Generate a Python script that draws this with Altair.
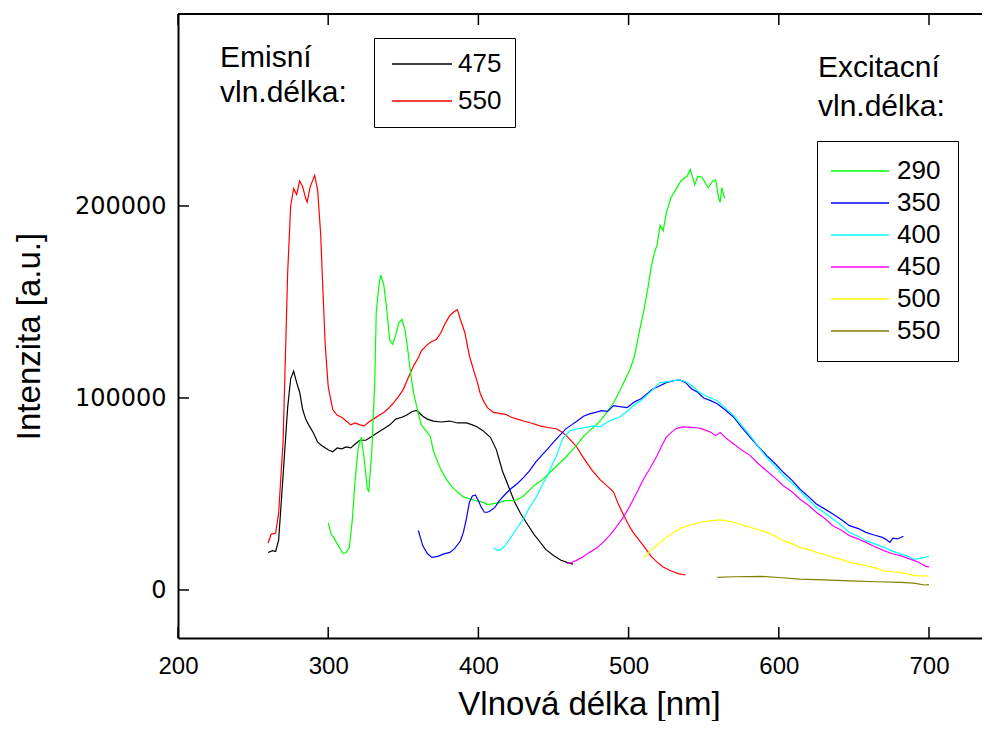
import altair as alt
import pandas as pd

# ---------------- data ----------------
# Emission wavelength 475 nm (black)
em475_nm = [260, 263, 265, 267, 270, 273, 275, 277, 279, 281, 283, 285, 287, 290, 293, 296, 300, 303, 306, 309,
            312, 315, 318, 321, 325, 329, 333, 337, 341, 345, 349, 352, 356, 359, 363, 366, 370, 375, 381, 386,
            392, 396, 399, 403, 408, 412, 416, 420, 424, 428, 432, 437, 441, 445, 450, 455, 459, 463]
em475_val = [19500, 20500, 20000, 26000, 60000, 95000, 110000, 114000, 108000, 103000, 94000, 89000, 86000, 82000,
             77000, 75000, 73000, 72000, 74000, 73500, 74500, 74000, 76000, 78000, 78000, 80000, 82000, 84000,
             86000, 89000, 90000, 91000, 93000, 93500, 90500, 89000, 88000, 87500, 88000, 87000, 87000, 86000,
             85000, 83000, 79500, 73000, 62000, 54000, 46000, 40000, 35000, 29000, 25000, 21000, 18000, 15500,
             14400, 13500]

# Emission wavelength 550 nm (red)
em550_nm = [260, 262, 265, 267, 270, 273, 275, 277, 279, 281, 283, 285, 286, 288, 290, 291, 293, 295, 296, 298,
            300, 303, 306, 309, 312, 315, 318, 321, 324, 327, 330, 334, 337, 340, 343, 347, 350, 353, 357, 360,
            362, 365, 368, 372, 375, 378, 381, 384, 386, 388, 391, 394, 397, 399, 401, 403, 406, 410, 414, 418,
            422, 426, 430, 435, 441, 447, 452, 456, 459, 462, 465, 469, 472, 476, 481, 486, 490, 493, 497, 500,
            503, 507, 510, 515, 519, 523, 528, 533, 538]
em550_val = [24500, 29000, 29700, 40000, 78000, 165000, 200000, 209000, 206000, 213000, 210000, 204000, 202000,
             210000, 214000, 216000, 208000, 185000, 165000, 128000, 106000, 94000, 91000, 90000, 88000, 86000,
             87000, 86000, 85500, 87500, 89000, 91000, 92500, 94500, 97000, 101000, 104500, 110000, 117000,
             121000, 124500, 127000, 129000, 130500, 134000, 139000, 143000, 145000, 146000, 141000, 134000,
             122000, 114000, 109000, 103000, 99000, 95000, 92500, 92000, 91500, 90000, 89000, 88000, 87000,
             85500, 84500, 84000, 82000, 80000, 77500, 75000, 70000, 66500, 62000, 57500, 54000, 51000, 45000,
             38500, 34000, 30000, 26000, 23000, 17500, 14500, 12000, 10000, 8500, 7800]

# Excitation wavelength 290 nm (green)
ex290_nm = [300, 302, 304, 306, 308, 310, 312, 314, 316, 318, 320, 322, 324, 326, 327, 329, 331, 332, 334, 335,
            337, 339, 341, 343, 345, 347, 349, 351, 353, 355, 357, 360, 362, 365, 368, 370, 374, 378, 382, 386,
            390, 394, 398, 402, 406, 410, 414, 418, 422, 426, 430, 434, 438, 442, 446, 450, 454, 458, 462, 466,
            470, 474, 478, 482, 486, 490, 494, 498, 501, 504, 507, 510, 513, 515, 517, 519, 521, 523, 525, 528,
            531, 534, 536, 539, 541, 543, 544, 546, 549, 551, 553, 556, 558, 560, 561, 562, 564]
ex290_val = [35000, 29000, 27000, 24000, 21500, 19000, 19500, 22000, 36000, 58000, 74000, 79500, 68000, 53000,
             51000, 72000, 108000, 145000, 160000, 164000, 159000, 146000, 130000, 128000, 133000, 139000,
             141000, 136000, 125000, 112000, 102000, 92000, 86000, 83000, 80000, 72500, 64500, 58500, 54000,
             51000, 48500, 47500, 46500, 46000, 44500, 45000, 45500, 46500, 46500, 47000, 49000, 52000, 55000,
             57000, 60000, 63000, 66000, 69000, 72500, 76000, 80000, 83000, 85500, 89000, 93000, 97500, 103500,
             110000, 115000, 122000, 134000, 145000, 158000, 168000, 175000, 180000, 190000, 187000, 196000,
             204000, 208000, 212000, 214000, 215500, 219000, 214000, 211000, 215500, 215000, 212000, 209500,
             213000, 213500, 204000, 202000, 209500, 204000]

# Excitation wavelength 350 nm (blue)
ex350_nm = [360, 363, 366, 369, 373, 377, 381, 384, 388, 390, 392, 394, 396, 398, 400, 402, 404, 406, 408, 411,
            414, 418, 422, 426, 430, 434, 438, 442, 446, 450, 454, 458, 462, 466, 470, 474, 478, 482, 486, 490,
            494, 499, 504, 508, 512, 516, 520, 525, 530, 534, 538, 542, 546, 550, 555, 559, 564, 570, 575, 581,
            586, 592, 598, 603, 609, 614, 620, 625, 631, 636, 642, 647, 653, 658, 664, 669, 672, 674, 676, 679,
            683]
ex350_val = [31000, 23000, 19000, 17000, 17500, 18800, 19600, 21400, 25500, 30000, 37000, 45700, 49000, 49500,
             46500, 43000, 40500, 40500, 41300, 43000, 46500, 50000, 53000, 55500, 58500, 62000, 66500, 70000,
             73400, 77000, 80400, 83800, 86000, 88200, 90500, 91700, 92500, 93400, 93000, 96000, 95500, 95000,
             98000, 99500, 102000, 104700, 106000, 108000, 109000, 109500, 108000, 104700, 103000, 100000,
             98500, 97000, 94000, 90000, 85000, 79500, 75000, 70000, 65500, 61300, 57000, 52600, 48500, 44800,
             42000, 39600, 36500, 33500, 32000, 30000, 28500, 27400, 26000, 24800, 27000, 26600, 28000]

# Excitation wavelength 400 nm (cyan)
ex400_nm = [410, 412, 414, 417, 421, 425, 430, 434, 439, 442, 446, 449, 452, 456, 461, 466, 472, 476, 481, 486,
            490, 494, 499, 504, 508, 513, 517, 521, 526, 530, 534, 538, 543, 547, 553, 559, 564, 570, 575, 581,
            586, 592, 598, 603, 609, 614, 620, 625, 631, 636, 642, 647, 653, 658, 664, 670, 675, 681, 686, 690,
            694, 697, 700]
ex400_val = [22200, 21000, 20500, 22500, 26600, 31500, 37000, 43000, 49000, 54000, 59500, 65000, 70000, 78600,
             83000, 84000, 84700, 85500, 85000, 87500, 89000, 90000, 93000, 96500, 98600, 102000, 105000,
             108000, 108500, 109000, 109500, 108500, 106000, 103000, 100500, 98600, 95000, 90800, 86000, 80400,
             75000, 69000, 64000, 59500, 55500, 51700, 47000, 43000, 40000, 37000, 33500, 30000, 28000, 25700,
             24000, 22200, 20500, 18800, 17500, 16000, 16500, 17000, 17500]

# Excitation wavelength 450 nm (magenta)
ex450_nm = [459, 462, 465, 470, 474, 479, 483, 488, 492, 497, 501, 505, 510, 514, 519, 522, 525, 529, 532, 536,
            541, 545, 548, 552, 555, 558, 561, 565, 570, 575, 581, 586, 592, 598, 603, 609, 614, 620, 625, 631,
            636, 642, 647, 653, 658, 664, 670, 675, 681, 686, 692, 695, 698, 700]
ex450_val = [13900, 14300, 15300, 17500, 19600, 22000, 24800, 29000, 33000, 38500, 44000, 50000, 57800, 63000,
             70000, 75000, 79500, 82500, 84200, 85000, 84700, 84500, 84200, 83000, 82000, 80400, 82000, 79000,
             76000, 73000, 70000, 66000, 62000, 58000, 54300, 51000, 47400, 44000, 40500, 37000, 33500, 31000,
             28300, 26500, 24800, 22500, 20500, 19000, 17900, 16500, 14800, 13500, 12300, 12000]

# Excitation wavelength 500 nm (yellow)
ex500_nm = [510, 513, 516, 520, 525, 530, 536, 542, 548, 554, 561, 565, 570, 575, 581, 586, 592, 598, 603, 609,
            614, 620, 625, 631, 636, 642, 647, 653, 658, 664, 670, 675, 681, 686, 692, 697, 700]
ex500_val = [17000, 19000, 21400, 24000, 27400, 30000, 32600, 34000, 35300, 36000, 36500, 36000, 35300, 34000,
             32600, 31500, 30000, 28000, 25700, 24000, 22200, 21000, 19600, 18500, 17000, 15800, 14400, 13500,
             12700, 11500, 10000, 9500, 9200, 8300, 7400, 7400, 7200]

# Excitation wavelength 550 nm (olive)
ex550_nm = [559, 570, 580, 588, 600, 614, 630, 647, 665, 681, 690, 697, 700]
ex550_val = [6600, 6900, 7000, 7100, 6500, 5700, 5300, 4800, 4300, 4000, 3600, 2600, 2800]

emission_names = ["475", "550"]
emission_colors = ["#000000", "#ff0000"]
excitation_names = ["290", "350", "400", "450", "500", "550"]
excitation_colors = ["#00ff00", "#0000ff", "#00ffff", "#ff00ff", "#ffff00", "#808000"]

x_ticks = [200, 300, 400, 500, 600, 700]
y_ticks = [0, 100000, 200000]

# ---------------- tables ----------------
def long(names, nms, vals):
    rows = []
    for n, xs, ys in zip(names, nms, vals):
        for a, b in zip(xs, ys):
            rows.append({"nm": a, "val": b, "series": n})
    return pd.DataFrame(rows)

em_df = long(emission_names, [em475_nm, em550_nm], [em475_val, em550_val])
ex_df = long(excitation_names, [ex290_nm, ex350_nm, ex400_nm, ex450_nm, ex500_nm, ex550_nm],
             [ex290_val, ex350_val, ex400_val, ex450_val, ex500_val, ex550_val])

# plot area: 1.502 px per nm, 1.92 px per 1000 counts
W, H = 804, 624
X_MAX = 200 + W / 1.502
FONT = "Liberation Sans, Arial, sans-serif"

x_axis = alt.Axis(values=x_ticks, ticks=False, labelPadding=16, labelFlush=False,
                  labelFont="Liberation Sans Narrow, Liberation Sans, Arial",
                  labelFontSize=24, labelColor="black", domainColor="black", domainWidth=2, grid=False,
                  title="Vlnová délka [nm]", titleFont=FONT, titleFontSize=33, titleFontWeight="normal",
                  titleColor="black", titleX=411, titleY=76, titleAlign="center", titleBaseline="alphabetic")
y_axis = alt.Axis(values=y_ticks, ticks=False, labelPadding=12, labelFlush=False, labelFont="DejaVu Sans",
                  labelFontSize=24, labelColor="black", format="d", domainColor="black", domainWidth=2,
                  grid=False, title="Intenzita [a.u.]", titleFont=FONT, titleFontSize=33,
                  titleFontWeight="normal", titleColor="black", titleX=-139, titleY=322, titleAlign="center",
                  titleBaseline="alphabetic", titleAngle=270)

xs = alt.Scale(domain=[200, X_MAX], nice=False, zero=False)
ys = alt.Scale(domain=[-25000, 300000], nice=False, zero=False)

X = alt.X("nm:Q", scale=xs, axis=x_axis)
Y = alt.Y("val:Q", scale=ys, axis=y_axis)

emis = alt.Chart(em_df).mark_line(strokeWidth=1.2).encode(
    x=X, y=Y,
    color=alt.Color("series:N", scale=alt.Scale(domain=emission_names, range=emission_colors),
                    legend=alt.Legend(orient="none", legendX=196, legendY=24, title=None, strokeColor="black",
                                      padding=13, symbolType="M-3,0H3", symbolSize=400, symbolStrokeWidth=1.3,
                                      symbolOffset=22, labelFontSize=26, labelFont=FONT, labelColor="black",
                                      rowPadding=11, labelOffset=23)),
)

exc = alt.Chart(ex_df).mark_line(strokeWidth=1.2).encode(
    x=X, y=Y,
    color=alt.Color("series:N", scale=alt.Scale(domain=excitation_names, range=excitation_colors),
                    legend=alt.Legend(orient="none", legendX=639, legendY=127, title=None, strokeColor="black",
                                      padding=17, symbolType="M-2.9,0H2.9", symbolSize=400,
                                      symbolStrokeWidth=1.3, symbolOffset=13, labelFontSize=26, labelFont=FONT,
                                      labelColor="black", rowPadding=6, labelOffset=24)),
)

xt_df = pd.DataFrame({"nm": x_ticks})
yt_df = pd.DataFrame({"val": y_ticks})
one = pd.DataFrame({"t": ["Emisní\nvln.délka:"]})
two = pd.DataFrame({"t": ["Excitacní\nvln.délka:"]})

bottom_ticks = alt.Chart(xt_df).mark_rule(color="black", strokeWidth=1.5).encode(
    x=X, y=alt.value(H), y2=alt.value(H - 11))
top_ticks = alt.Chart(xt_df).mark_rule(color="black", strokeWidth=1.5).encode(
    x=X, y=alt.value(0), y2=alt.value(11))
left_ticks = alt.Chart(yt_df).mark_rule(color="black", strokeWidth=1.5).encode(
    y=Y, x=alt.value(0), x2=alt.value(11))
top_line = alt.Chart(one).mark_rule(color="black", strokeWidth=2).encode(
    x=alt.value(0), x2=alt.value(W), y=alt.value(0))

t1 = alt.Chart(one).mark_text(lineBreak="\n", lineHeight=35, align="left", baseline="alphabetic",
                              fontSize=30, font=FONT, color="black").encode(
    text="t:N", x=alt.value(42), y=alt.value(53))
t2 = alt.Chart(two).mark_text(lineBreak="\n", lineHeight=39, align="left", baseline="alphabetic",
                              fontSize=30, font=FONT, color="black").encode(
    text="t:N", x=alt.value(640), y=alt.value(63))

chart = alt.layer(bottom_ticks, top_ticks, left_ticks, top_line, emis, exc, t1, t2).resolve_scale(
    color="independent"
).properties(
    width=W, height=H,
    autosize=alt.AutoSizeParams(type="none"),
    padding={"left": 170, "top": 6, "right": 0, "bottom": 83},
).configure_view(stroke=None).configure(background="white")

chart.save("out.html", embed_options={"renderer": "svg", "actions": False})
